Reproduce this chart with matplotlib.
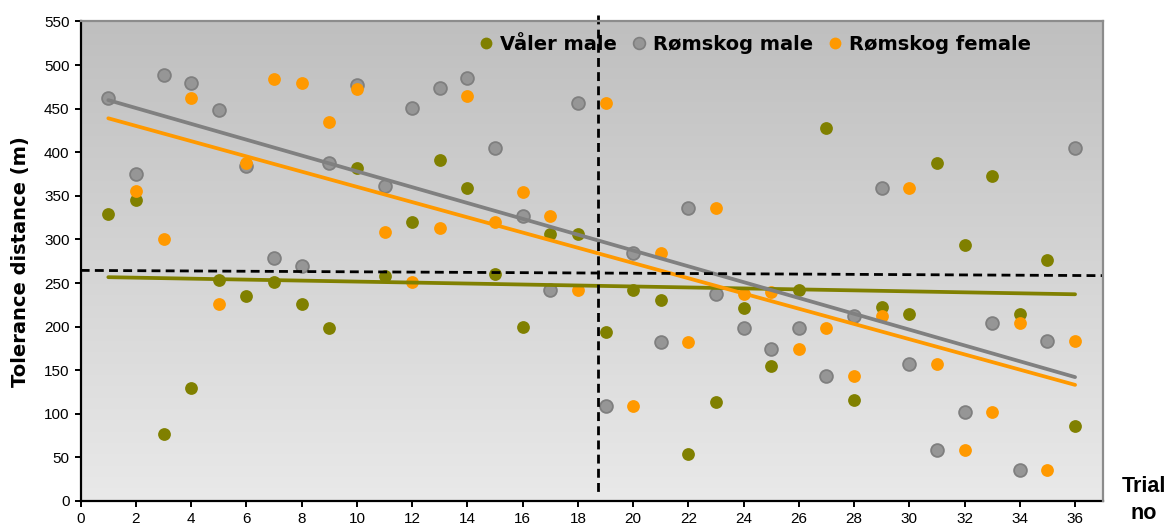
import numpy as np
import matplotlib
matplotlib.use("Agg")
import matplotlib.pyplot as plt
from matplotlib.lines import Line2D
from matplotlib.colors import LinearSegmentedColormap

# ---- data ----
trials = list(range(1, 37))
valer_male = [329, 345, 77, 130, 253, 235, 251, 226, 199, 382,
              258, 320, 391, 359, 260, 200, 306, 306, 194, 242,
              230, 54, 113, 221, 155, 242, 428, 116, 222, 214,
              388, 294, 373, 214, 276, 86]
romskog_male = [462, 375, 489, 480, 448, 384, 279, 270, 388, 477,
                361, 451, 474, 485, 405, 327, 242, 457, 109, 285,
                182, 336, 238, 199, 174, 199, 143, 212, 359, 157,
                58, 102, 204, 35, 184, 405]
romskog_female = [np.nan, 356, 301, 462, 226, 388, 484, 480, 435, 473,
                  309, 251, 313, 464, 320, 355, 327, 242, 457, 109,
                  285, 182, 336, 238, 240, 174, 199, 143, 212, 359,
                  157, 58, 102, 204, 35, 184]
series_names = ["Våler male", "Rømskog male", "Rømskog female"]
x_ticks = list(range(0, 37, 2))
y_ticks = list(range(0, 551, 50))
# reference (dashed) lines
h_ref_x = [0, 37]
h_ref_y = [264.5, 258.5]
v_ref_x = [18.72, 18.72]
v_ref_y = [557, 9.5]

OLIVE = "#808000"
GRAY = "#969696"
GRAY_EDGE = "#7f7f7f"
ORANGE = "#ff9900"

W, H = 1175, 528
fig = plt.figure(figsize=(W / 100, H / 100), dpi=100)
L, R, T, B = 80.7, 1102.7, 21.5, 501.0
ax = fig.add_axes([L / W, 1 - B / H, (R - L) / W, (B - T) / H])

ax.set_xlim(0, 37)
ax.set_ylim(0, 550)

# gradient background
cmap = LinearSegmentedColormap.from_list("bg", ["#bfbfbf", "#e9e9e9"])
ax.imshow(np.linspace(0, 1, 256).reshape(-1, 1), cmap=cmap, aspect="auto",
          extent=[0, 37, 0, 550], origin="upper", zorder=0)

x = np.array(trials, dtype=float)
ms = 9.2
ax.plot(x, valer_male, "o", ms=ms, color=OLIVE, mec=OLIVE, mew=0, zorder=2)
ax.plot(x, romskog_male, "o", ms=ms, color=GRAY, mec=GRAY_EDGE, mew=1.3, zorder=2.1)
ax.plot(x, romskog_female, "o", ms=ms, color=ORANGE, mec=ORANGE, mew=0, zorder=2.2)

# linear trend lines (least squares), drawn over the trial range
for ys, col, z in [(valer_male, OLIVE, 3), (romskog_male, "#808080", 3.1),
                   (romskog_female, ORANGE, 3.2)]:
    ya = np.array(ys, dtype=float)
    m = ~np.isnan(ya)
    k, b = np.polyfit(x[m], ya[m], 1)
    xx = np.array([x[0], x[-1]])
    ax.plot(xx, k * xx + b, color=col, lw=2.7, solid_capstyle="round", zorder=z)

# dashed reference lines
ax.plot(h_ref_x, h_ref_y, color="black", lw=2.0, dashes=(3.2, 1.9), zorder=7, clip_on=False)
ax.plot(v_ref_x, v_ref_y, color="black", lw=2.0, dashes=(3.2, 1.9), zorder=7, clip_on=False)

# axes styling
for s in ["left", "bottom"]:
    ax.spines[s].set_color("black")
    ax.spines[s].set_linewidth(1.6)
for s in ["top", "right"]:
    ax.spines[s].set_color("#8c8c8c")
    ax.spines[s].set_linewidth(1.6)
    ax.spines[s].set_zorder(8)

ax.set_xticks(x_ticks)
ax.set_yticks(y_ticks)
ax.tick_params(axis="both", direction="out", length=4, width=1.4, color="black",
               labelsize=11, pad=4)
for lab in ax.get_xticklabels() + ax.get_yticklabels():
    lab.set_fontfamily("Liberation Sans")

ax.set_ylabel("Tolerance distance (m)", fontsize=14, fontweight="bold",
              fontfamily="DejaVu Sans")
ax.yaxis.set_label_coords((30 - L) / (R - L), 0.5)

fig.text(1144 / W, 1 - 500 / H, "Trial\nno", ha="center", va="center",
         fontsize=15.5, fontweight="bold", fontfamily="Liberation Sans",
         linespacing=1.35)

handles = [
    Line2D([], [], ls="none", marker="o", ms=8.5, color=OLIVE, mew=0),
    Line2D([], [], ls="none", marker="o", ms=8.5, color=GRAY, mec=GRAY_EDGE, mew=1.2),
    Line2D([], [], ls="none", marker="o", ms=8.5, color=ORANGE, mew=0),
]
leg = fig.legend(handles, series_names, loc="center left",
                 bbox_to_anchor=(480 / W, 1 - 44 / H), ncol=3, frameon=False,
                 prop={"family": "DejaVu Sans", "weight": "bold", "size": 14},
                 handlelength=0.6, handletextpad=0.45, columnspacing=0.8,
                 borderpad=0, borderaxespad=0)
leg.set_zorder(5)

fig.savefig("out.png", dpi=100)
